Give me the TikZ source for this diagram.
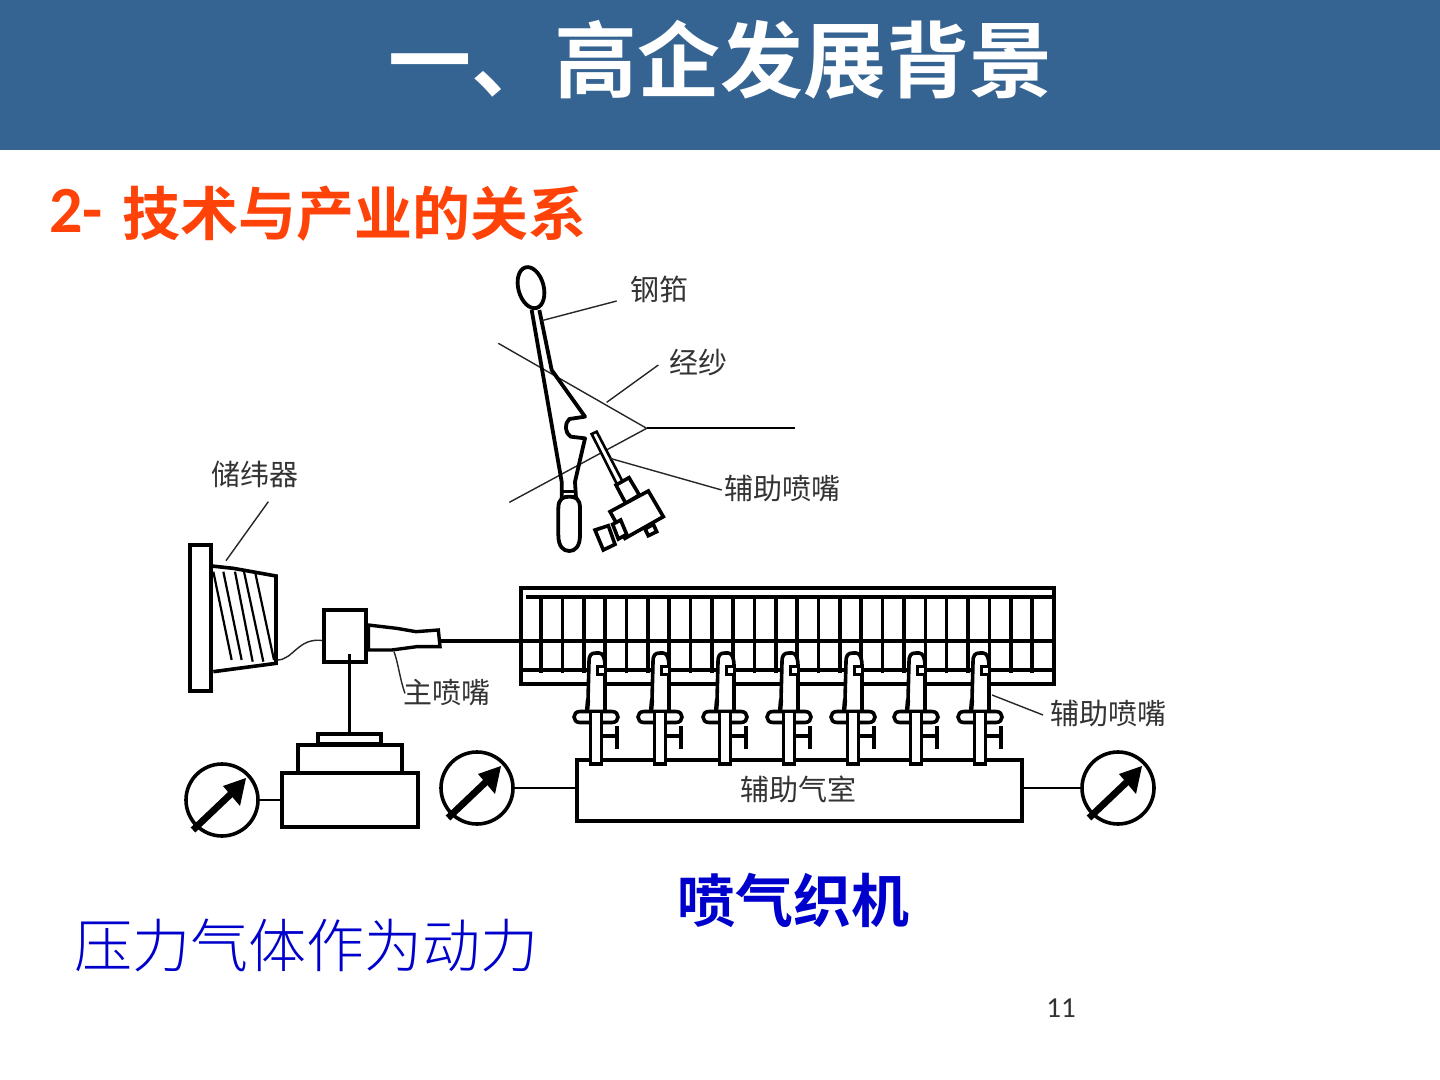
\documentclass[tikz,border=0pt]{standalone}
\usepackage{fontspec}
\setmainfont{Carlito}
\newfontfamily\cjkb[BoldFont={Noto Sans CJK SC Bold}]{Noto Sans CJK SC Bold}
\newfontfamily\cjkr{Noto Sans CJK SC}
\newfontfamily\cjkl{Noto Sans CJK SC Light}
\definecolor{bar}{HTML}{366492}
\definecolor{subt}{HTML}{FF4208}
\definecolor{bluet}{HTML}{0000CC}
\definecolor{lbl}{HTML}{333333}
\tikzset{
  thick line/.style={line width=1.8pt,black},
  thin line/.style={line width=.7pt,black!85},
  lab/.style={font=\cjkr\fontsize{14.5}{16}\selectfont,text=lbl,inner sep=0pt},
  bx/.style={draw=black,line width=1.8pt,fill=white,inner sep=0pt,outer sep=0pt},
  gauge/.style={circle,draw=black,line width=1.8pt,fill=white,minimum size=36pt,inner sep=0pt,outer sep=0pt},
  zoomA/.style={shift={(480,255)},x=.16667pt,y=-.16667pt},
  zoomB/.style={shift={(170,450)},x=.16667pt,y=-.16667pt},
}
\newcommand\boxnode[5]{\node[bx,minimum width={(#4-#2)*0.5pt},minimum height={(#5-#3)*0.5pt}] (#1) at ({(#2+#4)/2},{(#3+#5)/2}) {};}
\newcommand\gaugepointer[1]{%
  \draw[line width=3.4pt,black] ($(#1)+(-29,30)$) -- ($(#1)+(12,-9)$);
  \fill[black] ($(#1)+(24,-22)$) -- ($(#1)+(1,-14)$) -- ($(#1)+(18,6)$) -- cycle;}
\usetikzlibrary{calc}
\begin{document}
\begin{tikzpicture}[x=.5pt,y=-.5pt]
\useasboundingbox (0,0) rectangle (1440,1080);
\fill[white] (0,0) rectangle (1440,1080);
\node[fill=bar,minimum width=720pt,minimum height=75pt,inner sep=0pt,outer sep=0pt] (titlebar) at (720,75) {};
\node[text=white,font=\cjkb\fontsize{41.5}{44}\selectfont,inner sep=0pt] (title) at (720,60) {一、高企发展背景};
\node[text=subt,anchor=west,inner sep=0pt,font=\bfseries\fontsize{33}{36}\selectfont] (subtitleA) at (49,211) {2-};
\node[text=subt,anchor=west,inner sep=0pt,font=\cjkb\fontsize{29}{32}\selectfont] (subtitle) at (122,214) {技术与产业的关系};

% warp lines
\begin{scope}[zoomA]
\coordinate (wA) at (55,265); \coordinate (wB) at (500,520); \coordinate (wC) at (88,742); \coordinate (wD) at (945,520);
\draw[thin line] (wA) -- (wB) -- (wC);
\draw[line width=.9pt] (wB) -- (wD);
% reed
\draw[line width=1.9pt,line join=round] (155,165) -- (245,680) -- (245,730) (288,730) -- (285,680) -- (315,550) -- (272,545) .. controls (255,535) and (252,505) .. (268,492) -- (315,485) -- (215,345) -- (178,165);
\draw[line width=1.4pt] (245,710) -- (288,710);
\draw[line width=1.9pt,fill=white,rotate around={15:(153,98)}] (153,98) ellipse [x radius=38,y radius=63];
\draw[line width=1.9pt,fill=white] (235,760) .. controls (235,730) and (250,725) .. (268,725) .. controls (286,725) and (300,730) .. (300,760) -- (300,840) .. controls (300,875) and (285,888) .. (268,888) .. controls (250,888) and (235,875) .. (235,840) -- cycle;
% aux nozzle on reed
\draw[line width=1.3pt,fill=white] (335,537) -- (350,530) -- (428,680) -- (412,690) -- cycle;
\draw[line width=1.8pt,fill=white] (408,690) -- (447,668) -- (478,720) -- (437,745) -- cycle;
\draw[line width=1.8pt,fill=white] (390,770) -- (505,708) -- (550,785) -- (435,850) -- cycle;
\draw[line width=1.8pt,fill=white] (398,808) -- (422,795) -- (440,838) -- (415,852) -- cycle;
\draw[line width=1.8pt,fill=white] (345,825) -- (385,812) -- (405,868) -- (370,885) -- cycle;
\draw[line width=1.8pt,fill=white] (495,822) -- (520,808) -- (530,830) -- (505,842) -- cycle;
% leaders
\coordinate (gjA) at (185,197); \coordinate (gjB) at (410,138);
\coordinate (jsA) at (380,442); \coordinate (jsB) at (535,330);
\coordinate (fzA) at (390,610); \coordinate (fzB) at (725,705);
\draw[thin line] (gjA) -- (gjB);
\draw[thin line] (jsA) -- (jsB);
\draw[thin line] (fzA) -- (fzB);
\end{scope}
\node[lab] (lgj) at (659,289) {钢筘};
\node[lab] (ljs) at (698,362) {经纱};
\node[lab] (lfz) at (782,489) {辅助喷嘴};

% accumulator
\boxnode{plate}{190}{545}{211}{691}
\begin{scope}[zoomB]
\draw[line width=1.8pt] (125,348) -- (190,355) -- (318,378) -- (318,640) -- (130,665);
\foreach \a/\b/\c in {130/185/630,160/215/630,195/248/635,222/280/635,255/312/630}
  \draw[line width=1.1pt] (\a,365) -- (\b,\c);
\coordinate (cuA) at (322,630); \coordinate (cuB) at (460,572);
\coordinate (czA) at (295,155); \coordinate (czB) at (168,332);
\coordinate (zpA) at (672,605); \coordinate (zpB) at (705,730);
\draw[thin line] (cuA) .. controls (370,630) and (385,560) .. (cuB);
\draw[thin line] (czA) -- (czB);
\draw[thin line] (zpA) .. controls (685,640) and (690,690) .. (zpB);
\draw[line width=1.7pt,fill=white] (595,525) -- (680,535) -- (738,545) -- (805,540) -- (810,590) -- (740,590) -- (665,600) -- (595,600) -- cycle;
\end{scope}
\node[lab] (lcw) at (255,474) {储纬器};
\node[lab] (lzp) at (447,693) {主喷嘴};
\boxnode{mixer}{324}{610}{366}{662}
\coordinate (nozzleend) at (441,641);

% pump
\boxnode{pumptop}{318}{734}{381}{744}
\boxnode{pumpmid}{298}{745}{402}{773}
\boxnode{pumpbase}{282}{773}{418}{827}
\draw[thick line] ($(pumptop.north |- mixer.south)+(0,-8)$) -- (pumptop.north);

% frame
\boxnode{frame}{521}{588}{1054}{684}
\coordinate (railL) at (526,597);\coordinate (railR) at (1054,597);
\draw[thick line] (railL) -- (railR);
\coordinate (midL) at (521,641);\coordinate (midR) at (1054,641);
\draw[thick line] (midL) -- (midR);
\draw[thick line] (nozzleend) -- (midL);
\coordinate (lowL) at (521,670);\coordinate (lowR) at (1054,670);
\draw[thick line] (lowL) -- (lowR);
\foreach \k in {0,...,23}
  \draw[thick line] ({541+21.35*\k},597) -- ({541+21.35*\k},673);

% chamber
\boxnode{chamber}{577}{760}{1022}{821}
% injectors
\foreach \x in {596,660,725,789,853,916,980} {
\begin{scope}[shift={(\x,0)}]
\path[fill=white] (-8,655) rectangle (9,712);
\draw[line width=1.8pt,line join=round] (-8,700) -- (-7,662) .. controls (-7,655) and (-5,653) .. (0,653) -- (3,653) .. controls (7,653) and (9,658) .. (9,666);
\draw[line width=2.2pt] (-8,700) -- (-9,712);
\draw[line width=1.8pt] (9,674) -- (9,712);
\draw[line width=1.5pt,fill=white] (1,666) rectangle (9,674);
\draw[line width=1.8pt,fill=white] (-16,711.5) -- (16,711.5) .. controls (24,711.5) and (24,722.5) .. (16,722.5) -- (-16,722.5) .. controls (-24,722.5) and (-24,711.5) .. (-16,711.5) -- cycle;
\draw[line width=1.8pt,fill=white] (-5.5,713) -- (-5.5,764) -- (5.5,764) -- (5.5,713);
\draw[line width=1.8pt] (5.5,736) -- (21,736);
\draw[line width=2pt] (21,726) -- (21,749);
\end{scope}}
\coordinate (fzC) at (992,695); \coordinate (fzD) at (1043,715);
\draw[thin line] (fzC) -- (fzD);
\node[lab] (lfz2) at (1108,714) {辅助喷嘴};
\node[lab] (lqs) at (798,789) {辅助气室};

% gauges
\node[gauge] (g1) at (222,800) {};
\node[gauge] (g2) at (477,788) {};
\node[gauge] (g3) at (1118,788) {};
\draw[line width=1.4pt] (g1.east) -- (g1.east -| pumpbase.west);
\draw[line width=1.4pt] (g2.east) -- (g2.east -| chamber.west);
\draw[line width=1.4pt] (g3.west -| chamber.east) -- (g3.west);
\gaugepointer{g1}
\gaugepointer{g2}
\gaugepointer{g3}

\node[text=bluet,font=\cjkb\fontsize{29}{32}\selectfont,inner sep=0pt] (jet) at (793,900) {喷气织机};
\node[text=bluet,font=\cjkl\fontsize{29}{32}\selectfont,inner sep=0pt] (power) at (306,945) {压力气体作为动力};
\node[font=\fontsize{14.5}{16}\selectfont,text=black!80,inner sep=0pt] (pg) at (1061,1008) {11};
\end{tikzpicture}
\end{document}
